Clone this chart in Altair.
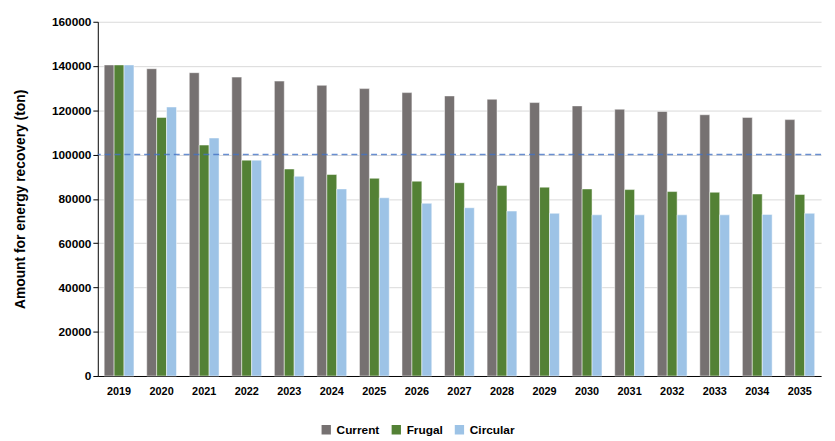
import altair as alt
import pandas as pd

years = [str(y) for y in range(2019, 2036)]
current = [140500,138800,137000,135000,133200,131300,129800,128000,126500,125000,123500,122000,120500,119500,118000,116800,115800]
frugal = [140500,116800,104300,97500,93500,91000,89300,88000,87300,86000,85300,84500,84200,83300,83000,82200,82000]
circular = [140500,121500,107500,97500,90200,84500,80500,78000,76000,74500,73500,72800,72800,72800,72800,73000,73500]
series = ["Current", "Frugal", "Circular"]
colors = ["#767171", "#538135", "#9DC3E6"]

rows = []
for i, y in enumerate(years):
    for s, vals in zip(series, [current, frugal, circular]):
        rows.append({"year": y, "scenario": s, "value": vals[i]})
df = pd.DataFrame(rows)

font = "Liberation Sans"
bars = alt.Chart(df).mark_bar(stroke="white", strokeWidth=0.5).encode(
    x=alt.X("year:N", sort=years, title=None,
            scale=alt.Scale(paddingInner=0.3, paddingOuter=0.15),
            axis=alt.Axis(labelAngle=0, labelFont=font, labelFontWeight="bold", labelFontSize=11,
                          labelColor="black", ticks=False, domainColor="black", labelPadding=10)),
    xOffset=alt.XOffset("scenario:N", sort=series),
    y=alt.Y("value:Q", title="Amount for energy recovery (ton)",
            scale=alt.Scale(domain=[0, 160000]),
            axis=alt.Axis(values=list(range(0, 160001, 20000)), format="d", labelFont=font,
                          labelFontWeight="bold", labelFontSize=12, labelColor="black",
                          titleFont=font, titleFontSize=14, titleFontWeight="bold", titleColor="black",
                          gridColor="#d9d9d9", domainColor="black", tickColor="black", titlePadding=24)),
    color=alt.Color("scenario:N", sort=series, scale=alt.Scale(domain=series, range=colors),
                    legend=alt.Legend(orient="none", legendX=225, legendY=407, direction="horizontal",
                                      title=None, labelFont=font, labelFontWeight="bold",
                                      labelFontSize=12, labelColor="black", symbolType="square",
                                      symbolSize=120, columnPadding=8)),
)

rule = alt.Chart(pd.DataFrame({"v": [100000]})).mark_rule(
    color="#4472C4", strokeDash=[6, 4], strokeWidth=1.5, opacity=0.8).encode(y="v:Q")

chart = (bars + rule).properties(width=733, height=359).configure_view(stroke=None)
chart.save("out.html", embed_options={"renderer": "svg", "actions": False})
